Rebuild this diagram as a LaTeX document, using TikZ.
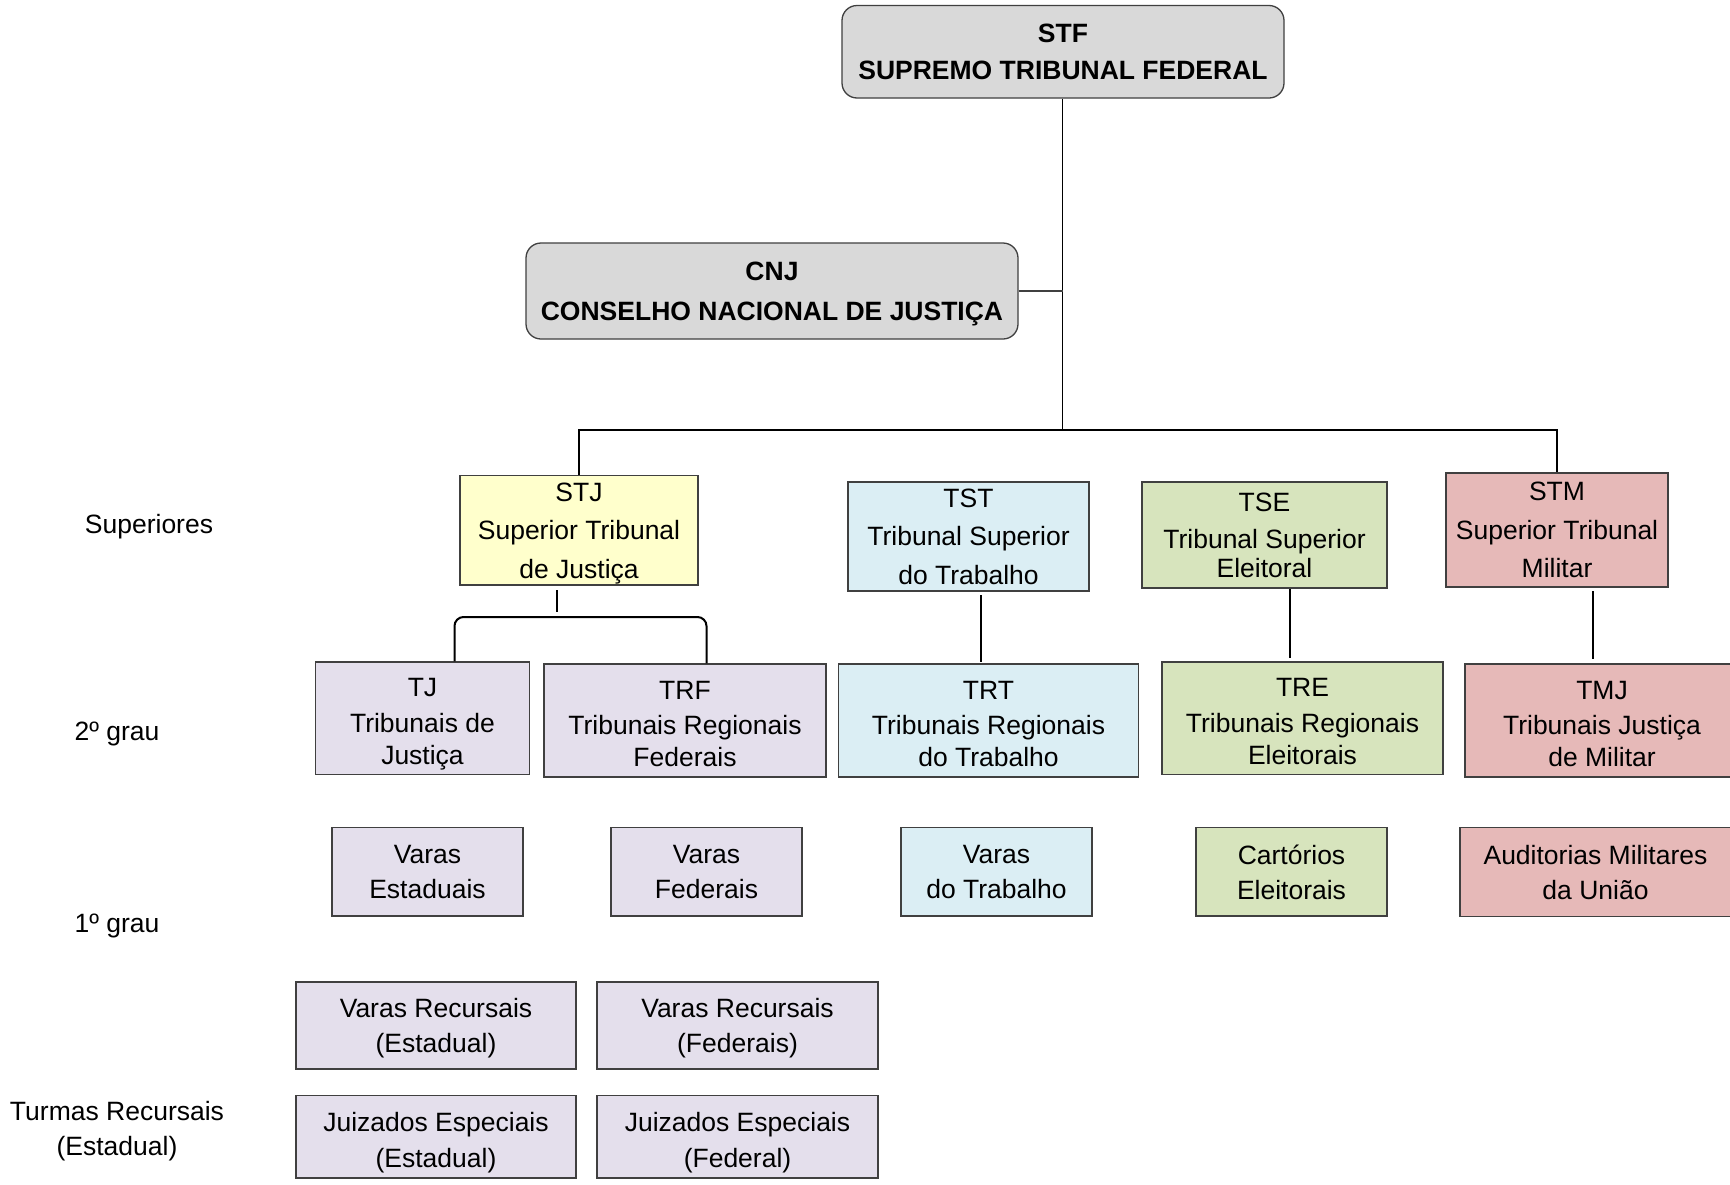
\documentclass[tikz,border=0pt]{standalone}
\usepackage{fontspec}
\setmainfont{Liberation Sans}
\usetikzlibrary{calc}
\definecolor{grayfill}{HTML}{D9D9D9}
\definecolor{yel}{HTML}{FFFFCC}
\definecolor{blu}{HTML}{DBEEF4}
\definecolor{grn}{HTML}{D7E4BD}
\definecolor{pnk}{HTML}{E6B9B8}
\definecolor{lav}{HTML}{E4DFEC}
\definecolor{edge}{HTML}{404040}
\newcommand{\myStrutB}{\rule{0pt}{24.5pt}}
\newcommand{\myStrutE}{\rule{0pt}{25pt}}
\tikzset{
  box/.style={draw=edge, line width=1.3pt, inner sep=0pt, align=center},
  topbox/.style={box, fill=grayfill, rounded corners=15pt, text depth=0pt, font=\bfseries\fontsize{26.5}{37.5}\selectfont},
  rowa/.style={box, text depth=0pt, font=\fontsize{26.5}{38.5}\selectfont},
  rowb/.style={box, text depth=0pt, font=\fontsize{26.5}{34}\selectfont},
  rowc/.style={box, fill=lav, text depth=0pt, font=\fontsize{26.5}{35}\selectfont},
  lbl/.style={inner sep=0pt, align=center, font=\fontsize{26.5}{35}\selectfont},
  conn/.style={draw=black, line width=2pt},
}
\begin{document}
\begin{tikzpicture}[x=1pt,y=-1pt]
\clip (0,0) rectangle (1730,1184);
\fill[white] (0,0) rectangle (1730,1184);

% top
\node[topbox, minimum width=442pt, minimum height=92.5pt] (stf) at (1063,51.75) {STF\\SUPREMO TRIBUNAL FEDERAL};
\node[topbox, minimum width=492pt, minimum height=96pt, font=\bfseries\fontsize{26.5}{40}\selectfont] (cnj) at (772,291) {CNJ\\CONSELHO NACIONAL DE JUSTIÇA};

% superiores
\node[rowa, fill=yel, minimum width=238pt, minimum height=109.5pt] (stj) at (579,530.25) {STJ\\Superior Tribunal\\de Justiça};
\node[rowa, fill=blu, minimum width=241pt, minimum height=109pt] (tst) at (968.5,536.5) {TST\\Tribunal Superior\\do Trabalho};
\node[rowa, fill=grn, minimum width=245pt, minimum height=106pt, font=\fontsize{26.5}{37.5}\selectfont] (tse) at (1264.5,535) {TSE\\Tribunal Superior\\[-9pt]Eleitoral};
\node[rowa, fill=pnk, minimum width=222pt, minimum height=114pt] (stm) at (1557,530) {STM\\Superior Tribunal\\Militar};

% 2o grau
\node[rowb, fill=lav, minimum width=214pt, minimum height=112.5pt] (tj) at (422.5,718.25) {\myStrutB TJ\\[1.5pt]Tribunais de\\[-2pt]Justiça};
\node[rowb, fill=lav, minimum width=282pt, minimum height=113pt] (trf) at (685,720.5) {\myStrutB TRF\\[1.5pt]Tribunais Regionais\\[-2pt]Federais};
\node[rowb, fill=blu, minimum width=300pt, minimum height=113pt] (trt) at (988.5,720.5) {\myStrutB TRT\\[1.5pt]Tribunais Regionais\\[-2pt]do Trabalho};
\node[rowb, fill=grn, minimum width=281pt, minimum height=112.5pt] (tre) at (1302.5,718.25) {\myStrutB TRE\\[1.5pt]Tribunais Regionais\\[-2pt]Eleitorais};
\node[rowb, fill=pnk, minimum width=274pt, minimum height=113pt] (tmj) at (1602,720.5) {\myStrutB TMJ\\[1.5pt]Tribunais Justiça\\[-2pt]de Militar};

% 1o grau
\node[rowc, minimum width=191pt, minimum height=88.5pt] (ve) at (427.5,871.75) {Varas\\Estaduais};
\node[rowc, minimum width=191pt, minimum height=88.5pt] (vf) at (706.5,871.75) {Varas\\Federais};
\node[rowc, fill=blu, minimum width=191pt, minimum height=88.5pt] (vt) at (996.5,871.75) {Varas\\do Trabalho};
\node[rowc, fill=grn, minimum width=191pt, minimum height=88.5pt] (ce) at (1291.5,871.75) {Cartórios\\Eleitorais};
\node[rowc, fill=pnk, minimum width=271pt, minimum height=89.5pt] (am) at (1595.5,872) {Auditorias Militares\\da União};

% recursais
\node[rowc, minimum width=280pt, minimum height=87pt] (vre) at (436,1025.5) {Varas Recursais\\(Estadual)};
\node[rowc, minimum width=281pt, minimum height=87pt] (vrf) at (737.5,1025.5) {Varas Recursais\\(Federais)};
\node[rowc, minimum width=280pt, minimum height=82.5pt] (jee) at (436,1136.75) {\myStrutE Juizados Especiais\\[0.5pt](Estadual)};
\node[rowc, minimum width=281pt, minimum height=82.5pt] (jef) at (737.5,1136.75) {\myStrutE Juizados Especiais\\[0.5pt](Federal)};

% left labels
\node[lbl] (lsup) at (149,527) {Superiores};
\node[lbl] (l2) at (117,734) {2º grau};
\node[lbl] (l1) at (117,926) {1º grau};
\node[lbl] (ltr) at (117,1131.5) {Turmas Recursais\\(Estadual)};

% connectors
\coordinate (busC) at (1062.5,430);
\coordinate (busL) at (579,430);
\coordinate (busR) at (1557,430);
\draw[conn, line width=1.6pt] (stf.south -| busC) -- (busC);
\draw[draw=edge, line width=1.6pt] (cnj.east) -- (cnj.east -| busC);
\draw[conn, line width=1.4pt] (stj.north) -- (busL) -- (busR) -- (stm.north);

\coordinate (d1) at (557,590);
\coordinate (d2) at (557,612);
\draw[conn] (d1) -- (d2);
\coordinate (legL) at (454.5,617);
\coordinate (legR) at (706.5,617);
\draw[conn, rounded corners=9pt] (legL |- tj.north) -- (legL) -- (legR) -- (legR |- trf.north);

\coordinate (a1) at (981,595);
\coordinate (a2) at (981,662);
\draw[conn] (a1) -- (a2);
\coordinate (b1) at (1290,589);
\coordinate (b2) at (1290,657.5);
\draw[conn] (b1) -- (b2);
\coordinate (c1) at (1593,591);
\coordinate (c2) at (1593,659);
\draw[conn] (c1) -- (c2);
\end{tikzpicture}
\end{document}
